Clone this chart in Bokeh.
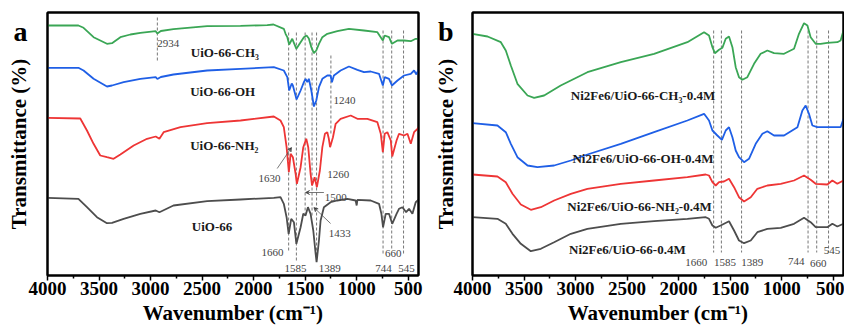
from bokeh.plotting import figure
from bokeh.layouts import row
from bokeh.models import Range1d, FixedTicker, Arrow, VeeHead, LinearAxis
from bokeh.core.properties import value
from bokeh.embed import file_html
from bokeh.resources import INLINE

FONT = "Liberation Serif"
GREEN = "#3aa655"
BLUE = "#1f5fe6"
RED = "#ee3535"
GRAY = "#4d4d4d"
NOTE = "#444444"

X_TICKS = [4000, 3500, 3000, 2500, 2000, 1500, 1000, 500]
X_MINOR = [3750, 3250, 2750, 2250, 1750, 1250, 750]

# ---------------- panel a data ----------------
a_ch3_wn = [4000, 3700, 3650, 3553, 3423, 3374, 3293, 3196, 3099, 2950, 2934, 2900, 2778, 2451, 2127, 1868,
            1807, 1707, 1690, 1673, 1655, 1625, 1585, 1544, 1512, 1486, 1464, 1440, 1415, 1392, 1366, 1333,
            1285, 1188, 1075, 929, 799, 746, 728, 686, 658, 604, 540, 475, 427, 400]
a_ch3_t = [250, 250, 247.7, 238.3, 231.7, 232.3, 238.3, 241, 242.7, 244.3, 242, 244.5, 246.3, 249.3, 249.7, 250.3,
           251, 246.7, 241.7, 238.3, 231, 236.7, 226.7, 233.3, 238.3, 240, 237, 228.3, 222.3, 225, 231.7, 238.3,
           241.7, 244.3, 246.7, 245, 243.3, 235, 240, 238.3, 231.7, 235, 235, 234.3, 236.7, 236.7]

a_oh_wn = [4000, 3700, 3650, 3553, 3423, 3374, 3261, 3099, 2950, 2934, 2900, 2778, 2451, 2127, 1804, 1707,
           1673, 1655, 1630, 1619, 1583, 1544, 1512, 1496, 1479, 1464, 1440, 1415, 1392, 1366, 1333, 1285,
           1253, 1240, 1221, 1156, 1075, 993, 929, 864, 783, 746, 728, 686, 658, 604, 540, 475, 443, 420, 400]
a_oh_t = [207.7, 207.7, 205, 196.7, 189, 190, 193.3, 196.7, 198.3, 196.5, 198.5, 201, 205, 206.7, 208.3, 205,
          198.3, 185, 192, 190, 176, 185, 193.3, 196.7, 193.3, 196.7, 185, 169, 175, 188.3, 196.7, 200,
          200, 193.3, 200, 205, 209, 205.7, 203.3, 204, 201.7, 190, 198.3, 196.7, 190, 195, 200, 201.7, 205, 201, 206]

a_nh2_wn = [4000, 3682, 3617, 3553, 3488, 3423, 3359, 3293, 3164, 3034, 2950, 2914, 2873, 2710, 2451, 2127,
            1804, 1739, 1707, 1680, 1658, 1641, 1619, 1593, 1580, 1544, 1518, 1489, 1470, 1447, 1433, 1408,
            1386, 1357, 1333, 1308, 1285, 1270, 1258, 1230, 1204, 1156, 1058, 993, 896, 799, 766, 746, 728,
            702, 669, 655, 613, 589, 540, 507, 475, 443, 410, 400]
a_nh2_t = [157.7, 157, 145, 131.7, 120, 118.3, 116.7, 121, 130, 136.7, 139, 136.7, 143.3, 148.3, 152.3, 155,
           159, 155, 148.3, 128.3, 103.3, 121.7, 118.3, 102, 91.7, 108.3, 128.3, 136.7, 128.3, 101.7, 90, 98.3,
           88.3, 105, 128.3, 141.7, 143.3, 136.7, 128.3, 138.3, 151.7, 156.7, 160, 156.7, 156.7, 153.3, 141.7,
           123.3, 141.7, 143.3, 135, 119, 135, 141.7, 140, 141.7, 131.7, 143.3, 146.7, 148.3]

a_ui_wn = [4000, 3700, 3617, 3520, 3423, 3374, 3261, 3099, 2950, 2914, 2778, 2451, 2127, 1804, 1739, 1707,
           1680, 1660, 1635, 1609, 1585, 1544, 1518, 1496, 1473, 1447, 1421, 1398, 1389, 1366, 1350, 1318,
           1253, 1188, 1090, 1010, 1000, 993, 864, 783, 760, 744, 718, 686, 655, 613, 589, 556, 520, 492,
           459, 427, 400]
a_ui_t = [77.7, 76.7, 68.3, 58.3, 52.3, 52.7, 56.7, 61.7, 65, 63.3, 70, 74.3, 76, 77.7, 78.3, 71.7,
          58.3, 41.7, 56.7, 53.3, 31.7, 48.3, 61.7, 60, 68.3, 61.7, 45, 21.7, 13.3, 35, 55, 68.3,
          73.3, 75, 76.7, 75, 70, 75.7, 75, 71.7, 61.7, 48.3, 61.7, 61.7, 51.7, 61.7, 66.7, 68.3, 63.3, 66.7,
          61.7, 73.3, 75.7]

a_names = ["UiO-66-CH\u2083", "UiO-66-OH", "UiO-66-NH\u2082", "UiO-66"]
a_name_x = [2610, 2615, 2615, 2600]
a_name_y = [223, 184, 130, 49]

a_mark_wn = [2934, 1660, 1585, 1500, 1433, 1389, 1250, 744, 660, 545]
a_mark_top = [258, 243, 243, 243, 243, 243, 220, 245, 245, 245]
a_mark_bot = [213, 23, 13, 60, 60, 13, 142, 20, 25, 20]

a_note_text = ["2934", "1240", "1630", "1260", "1500", "1433", "1660", "1585", "1389", "744", "660", "545"]
a_note_x = [2934, 1226, 1739, 1285, 1310, 1271, 1710, 1593, 1368, 740, 644, 516]
a_note_y = [232, 175, 97, 101, 78, 42, 23, 7, 7, 7, 22, 7]
a_note_align = ["left", "left", "right", "left", "left", "left", "right", "center", "left", "center", "center", "center"]

# ---------------- panel b data ----------------
b_ch3_wn = [4000, 3854, 3725, 3677, 3628, 3564, 3466, 3402, 3305, 3144, 2885, 2561, 2238, 1915, 1753, 1705,
            1672, 1648, 1608, 1575, 1543, 1511, 1478, 1446, 1414, 1381, 1333, 1268, 1204, 1139, 1074, 977,
            880, 832, 783, 750, 719, 670, 622, 557, 460, 428, 400]
b_ch3_t = [241.7, 239, 233.3, 225, 210, 191.7, 180, 177.7, 180, 190, 203.3, 213.3, 221.7, 233.3, 243.3, 240,
           228.3, 222.3, 225.7, 227.7, 236.7, 239, 228.3, 208.3, 198.3, 195.7, 198.3, 211.7, 221.7, 225, 222.3,
           221.7, 226.7, 241.7, 252.3, 250, 238.3, 231.7, 231.7, 232.7, 233.3, 235, 245]

b_oh_wn = [4000, 3758, 3677, 3628, 3564, 3466, 3370, 3208, 3046, 2885, 2561, 2238, 1915, 1753, 1705, 1672,
           1624, 1580, 1543, 1511, 1478, 1446, 1414, 1365, 1317, 1252, 1187, 1139, 1074, 977, 847, 799, 767,
           735, 702, 654, 524, 428, 400]
b_oh_t = [152.3, 150, 143.3, 131.7, 118.3, 110, 108.3, 110, 115, 121, 131.7, 143.3, 155, 161.7, 155, 145,
          140, 135.7, 145, 148.3, 138.3, 125, 118.3, 113.3, 116.7, 131.7, 141.7, 144.3, 140, 140, 148.3, 165, 170,
          161.7, 150, 148.3, 148.3, 148.3, 156.7]

b_nh2_wn = [4000, 3758, 3677, 3612, 3531, 3434, 3337, 3208, 3046, 2885, 2561, 2238, 1915, 1737, 1705, 1672,
            1640, 1608, 1560, 1511, 1462, 1414, 1365, 1300, 1236, 1139, 1009, 880, 783, 719, 670, 557, 508, 460, 400]
b_nh2_t = [101, 99, 93.3, 81.7, 71, 65.7, 68.3, 75, 81.7, 86.7, 91.7, 95, 98.3, 101, 100, 93.3,
           90, 93.3, 94, 96.7, 88.3, 78.3, 74, 78.3, 86.7, 90, 91.7, 95, 100, 95.7, 91.7, 91, 95, 91.7, 95]

b_ui_wn = [4000, 3758, 3677, 3612, 3531, 3434, 3337, 3208, 3046, 2885, 2561, 2238, 1915, 1737, 1705, 1672,
           1640, 1592, 1511, 1462, 1414, 1365, 1300, 1236, 1139, 1009, 880, 783, 719, 670, 557, 508, 460, 400]
b_ui_t = [58.3, 56.7, 51.7, 41.7, 31.7, 24.3, 26.7, 33.3, 41.7, 46.7, 51.7, 54.3, 56.7, 58.3, 56.7, 50,
          47.7, 50, 54.3, 45, 35, 32.3, 35, 43.3, 46.7, 47.7, 51.7, 57.7, 53.3, 48.3, 48.3, 51.7, 49, 51.7]

b_names = ["Ni2Fe6/UiO-66-CH\u2083-0.4M", "Ni2Fe6/UiO-66-OH-0.4M", "Ni2Fe6/UiO-66-NH\u2082-0.4M", "Ni2Fe6/UiO-66-0.4M"]
b_name_x = [3046, 3030, 3080, 3063]
b_name_y = [180, 117, 69, 26]

b_mark_wn = [1660, 1585, 1389, 744, 660, 545]
b_mark_top = [245, 245, 245, 245, 245, 245]
b_mark_bot = [23, 23, 23, 23, 23, 23]

b_note_text = ["1660", "1585", "1389", "744", "660", "545"]
b_note_x = [1723, 1656, 1391, 859, 646, 511]
b_note_y = [13, 13, 13, 14, 12, 25]
b_note_align = ["right", "left", "left", "center", "center", "center"]

PANEL_TICK = 244


def frame_axis():
    ax = LinearAxis(ticker=FixedTicker(ticks=[]))
    ax.axis_line_color = "black"
    ax.axis_line_width = 2
    ax.major_tick_line_color = None
    ax.minor_tick_line_color = None
    ax.major_tick_out = 0
    ax.major_tick_in = 0
    ax.minor_tick_out = 0
    ax.major_label_text_font_size = "0px"
    ax.major_label_standoff = 0
    return ax


def make_fig(width, mb_left, mb_right, letter, letter_standoff, label_standoff):
    p = figure(width=width, height=328, x_range=Range1d(4000, 400), y_range=Range1d(0, 263),
               output_backend="svg", toolbar_location=None,
               min_border_left=mb_left, min_border_right=mb_right, min_border_top=12, min_border_bottom=53)
    p.xgrid.visible = False
    p.ygrid.visible = False
    p.outline_line_color = "black"
    p.outline_line_width = 2
    p.outline_line_alpha = 1.0

    xa = p.below[0]
    xa.ticker = FixedTicker(ticks=X_TICKS, minor_ticks=X_MINOR)
    xa.axis_line_width = 2
    xa.major_tick_in = 0
    xa.major_tick_out = 5
    xa.minor_tick_in = 0
    xa.minor_tick_out = 3
    xa.major_tick_line_width = 1.5
    xa.minor_tick_line_width = 1.5
    xa.major_label_standoff = 1
    xa.major_label_text_font = FONT
    xa.major_label_text_font_style = "bold"
    xa.major_label_text_font_size = "19px"
    xa.major_label_text_color = "black"
    xa.axis_label = "Wavenumber (cm\u207b\u00b9)"
    xa.axis_label_text_font = FONT
    xa.axis_label_text_font_style = "bold"
    xa.axis_label_text_font_size = "21px"
    xa.axis_label_text_color = "black"
    xa.axis_label_standoff = 3

    ya = p.left[0]
    ya.ticker = FixedTicker(ticks=[PANEL_TICK])
    ya.major_label_overrides = {PANEL_TICK: letter}
    ya.major_tick_line_color = None
    ya.minor_tick_line_color = None
    ya.major_tick_out = 0
    ya.major_tick_in = 0
    ya.major_label_standoff = letter_standoff
    ya.major_label_text_font = FONT
    ya.major_label_text_font_style = "bold"
    ya.major_label_text_font_size = "28px"
    ya.major_label_text_color = "black"
    ya.axis_line_color = "black"
    ya.axis_line_width = 2
    ya.axis_label = "Transmittance (%)"
    ya.axis_label_text_font = FONT
    ya.axis_label_text_font_style = "bold"
    ya.axis_label_text_font_size = "21px"
    ya.axis_label_text_color = "black"
    ya.axis_label_standoff = label_standoff

    p.add_layout(frame_axis(), "above")
    p.add_layout(frame_axis(), "right")
    return p


def add_notes(p, texts, xs, ys, aligns):
    for t, x, y, al in zip(texts, xs, ys, aligns):
        p.text(x=[x], y=[y], text=[t], text_font=value(FONT), text_font_size="11px",
               text_color=NOTE, text_align=al, text_baseline="alphabetic")


# ---------------- panel a ----------------
pa = make_fig(424, 47, 6, "a", 20, -20)
pa.segment(x0=a_mark_wn, y0=a_mark_top, x1=a_mark_wn, y1=a_mark_bot,
           line_color="#777777", line_width=1, line_dash="3 2")
for wn, t, c in [(a_ch3_wn, a_ch3_t, GREEN), (a_oh_wn, a_oh_t, BLUE),
                 (a_nh2_wn, a_nh2_t, RED), (a_ui_wn, a_ui_t, GRAY)]:
    pa.line(wn, t, line_color=c, line_width=1.8)
pa.text(x=a_name_x, y=a_name_y, text=a_names, text_font=value(FONT), text_font_size="13px",
        text_font_style="bold", text_color="#1a1a1a", text_baseline="alphabetic")
add_notes(pa, a_note_text, a_note_x, a_note_y, a_note_align)
for xs, ys, xe, ye in [(1771, 107, 1632, 128), (1318, 83, 1496, 83), (1253, 52, 1415, 68)]:
    pa.add_layout(Arrow(end=VeeHead(size=4, line_color="#555555", line_width=0.8),
                        x_start=xs, y_start=ys, x_end=xe, y_end=ye,
                        line_color="#555555", line_width=0.8))

# ---------------- panel b ----------------
pb = make_fig(420, 48, 1, "b", 19, -23)
pb.segment(x0=b_mark_wn, y0=b_mark_top, x1=b_mark_wn, y1=b_mark_bot,
           line_color="#777777", line_width=1, line_dash="3 2")
for wn, t, c in [(b_ch3_wn, b_ch3_t, GREEN), (b_oh_wn, b_oh_t, BLUE),
                 (b_nh2_wn, b_nh2_t, RED), (b_ui_wn, b_ui_t, GRAY)]:
    pb.line(wn, t, line_color=c, line_width=1.8)
pb.text(x=b_name_x, y=b_name_y, text=b_names, text_font=value(FONT), text_font_size="13px",
        text_font_style="bold", text_color="#1a1a1a", text_baseline="alphabetic")
add_notes(pb, b_note_text, b_note_x, b_note_y, b_note_align)

layout = row(pa, pb)
open("out.html", "w").write(file_html(layout, INLINE))
